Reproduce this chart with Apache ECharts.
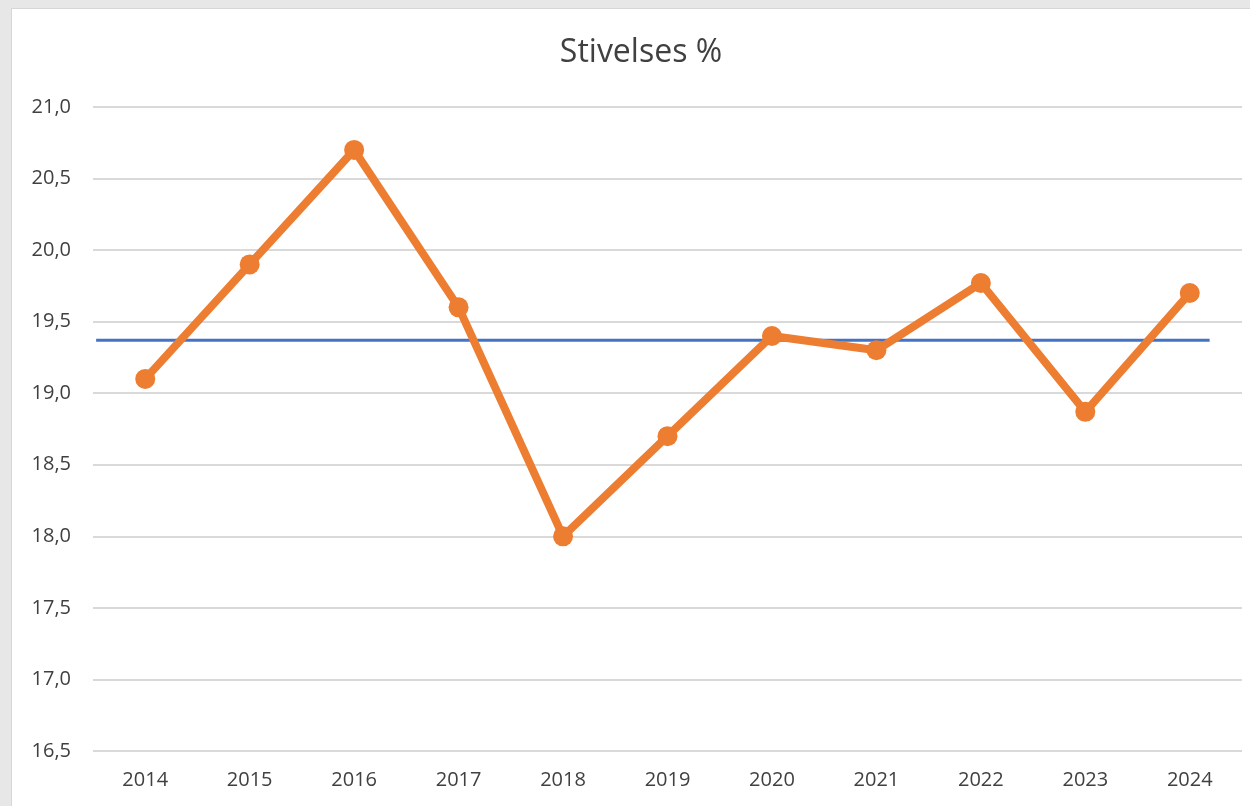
<!DOCTYPE html>
<html>
<head>
<meta charset="UTF-8">
<title>Stivelses %</title>
<script src="https://cdn.jsdelivr.net/npm/echarts@6/dist/echarts.min.js"></script>
<style>
    body {
        margin: 0;
        padding: 0;
        background: #e7e7e7;
    }
    #main {
        position: absolute;
        left: 11px;
        top: 8px;
        width: 1239px;
        height: 798px;
        background: #fff;
        border-top: 1px solid #d6d6d6;
        border-left: 1px solid #d6d6d6;
    }
</style>
</head>
<body>
<div id="main"></div>
<script type="text/javascript">
    const years = ['2014', '2015', '2016', '2017', '2018', '2019', '2020', '2021', '2022', '2023', '2024'];
    const starch = [19.1, 19.9, 20.7, 19.6, 18.0, 18.7, 19.4, 19.3, 19.77, 18.87, 19.7];
    const averageValue = 19.37;
    const averageSpan = [0.03, 10.69];

    const chart = echarts.init(document.getElementById('main'), null, {renderer: 'canvas'});
    const font = '"Open Sans", "Noto Sans", sans-serif';

    chart.setOption({
        animation: false,
        title: {
            text: 'Stivelses %',
            left: 624,
            top: 23,
            textAlign: 'center',
            textStyle: {fontFamily: font, fontSize: 32, fontWeight: 'normal', color: '#404040'}
        },
        grid: {left: 81, right: 9, top: 98, bottom: 56},
        xAxis: [{
            type: 'category',
            data: years,
            axisLine: {show: false},
            axisTick: {show: false},
            axisLabel: {fontFamily: font, fontSize: 20, color: '#404040', margin: 19}
        }, {
            type: 'value',
            min: 0,
            max: years.length,
            show: false
        }],
        yAxis: {
            type: 'value',
            min: 16.5,
            max: 21,
            interval: 0.5,
            axisLine: {show: false},
            axisTick: {show: false},
            splitLine: {lineStyle: {color: '#d9d9d9', width: 2}},
            axisLabel: {
                fontFamily: font, fontSize: 20, color: '#404040', margin: 22,
                formatter: v => v.toFixed(1).replace('.', ',')
            }
        },
        series: [{
            name: 'Gjennomsnitt',
            type: 'line',
            xAxisIndex: 1,
            data: averageSpan.map(x => [x, averageValue]),
            symbol: 'none',
            lineStyle: {color: '#4472c4', width: 3},
            z: 2
        }, {
            name: 'Stivelses %',
            type: 'line',
            data: starch,
            symbol: 'circle',
            symbolSize: 20,
            itemStyle: {color: '#ed7d31'},
            lineStyle: {color: '#ed7d31', width: 8},
            z: 3
        }]
    });
</script>
</body>
</html>
